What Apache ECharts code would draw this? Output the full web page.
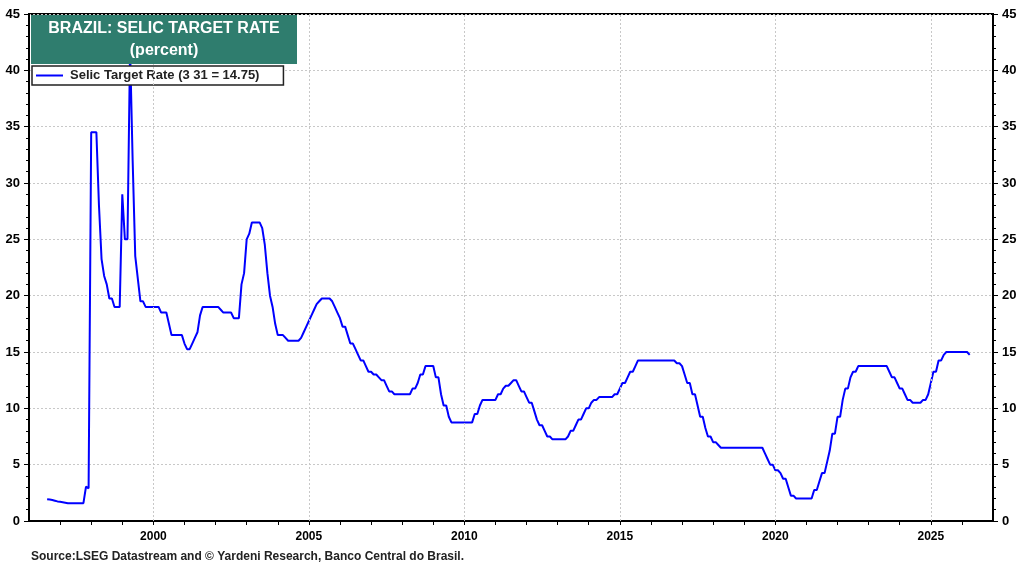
<!DOCTYPE html>
<html><head><meta charset="utf-8">
<script src="https://cdn.jsdelivr.net/npm/echarts@6/dist/echarts.min.js"></script>
<style>html,body{margin:0;padding:0;background:#fff}#c{width:1024px;height:564px}</style>
</head><body><div id="c"></div>
<script>
// Monthly observations, first one is Aug 1996 (each point is the rate at the start of its month)
const startYear = 1996, startMonth = 8;
const selicRate = [
  1.93, 1.90, 1.86, 1.80, 1.74,                                         // 1996 Aug-Dec
  1.70, 1.66, 1.62, 1.58, 1.58, 1.58, 1.58, 1.58, 1.58, 1.58, 3.05, 2.90, // 1997
  34.5, 34.5, 34.5, 28, 23.25, 21.75, 21, 19.75, 19.75, 19, 19, 19,         // 1998
  29, 25, 25, 42, 32, 23.5, 21.5, 19.5, 19.5, 19, 19, 19,                   // 1999
  19, 19, 19, 18.5, 18.5, 18.5, 17.5, 16.5, 16.5, 16.5, 16.5, 16.5,         // 2000
  15.75, 15.25, 15.25, 15.75, 16.25, 16.75, 18.25, 19, 19, 19, 19, 19,      // 2001
  19, 19, 18.75, 18.5, 18.5, 18.5, 18.5, 18, 18, 18, 21, 22,                // 2002
  25, 25.5, 26.5, 26.5, 26.5, 26.5, 26, 24.5, 22, 20, 19, 17.5,             // 2003
  16.5, 16.5, 16.5, 16.25, 16, 16, 16, 16, 16, 16.25, 16.75, 17.25,         // 2004
  17.75, 18.25, 18.75, 19.25, 19.5, 19.75, 19.75, 19.75, 19.75, 19.5, 19, 18.5, // 2005
  18, 17.25, 17.25, 16.5, 15.75, 15.75, 15.25, 14.75, 14.25, 14.25, 13.75, 13.25, // 2006
  13.25, 13, 13, 12.75, 12.5, 12.5, 12, 11.5, 11.5, 11.25, 11.25, 11.25,    // 2007
  11.25, 11.25, 11.25, 11.25, 11.75, 11.75, 12.25, 13, 13, 13.75, 13.75, 13.75, // 2008
  13.75, 12.75, 12.75, 11.25, 10.25, 10.25, 9.25, 8.75, 8.75, 8.75, 8.75, 8.75, // 2009
  8.75, 8.75, 8.75, 8.75, 9.5, 9.5, 10.25, 10.75, 10.75, 10.75, 10.75, 10.75, // 2010
  10.75, 11.25, 11.25, 11.75, 12, 12, 12.25, 12.5, 12.5, 12, 11.5, 11.5,    // 2011
  11, 10.5, 10.5, 9.75, 9, 8.5, 8.5, 8, 7.5, 7.5, 7.25, 7.25,               // 2012
  7.25, 7.25, 7.25, 7.25, 7.5, 8, 8, 8.5, 9, 9, 9.5, 10,                    // 2013
  10, 10.5, 10.75, 10.75, 11, 11, 11, 11, 11, 11, 11.25, 11.25,             // 2014
  11.75, 12.25, 12.25, 12.75, 13.25, 13.25, 13.75, 14.25, 14.25, 14.25, 14.25, 14.25, // 2015
  14.25, 14.25, 14.25, 14.25, 14.25, 14.25, 14.25, 14.25, 14.25, 14.25, 14, 14, // 2016
  13.75, 13, 12.25, 12.25, 11.25, 11.25, 10.25, 9.25, 9.25, 8.25, 7.5, 7.5, // 2017
  7, 7, 6.75, 6.5, 6.5, 6.5, 6.5, 6.5, 6.5, 6.5, 6.5, 6.5,                  // 2018
  6.5, 6.5, 6.5, 6.5, 6.5, 6.5, 6.5, 6.5, 6, 5.5, 5, 5,                     // 2019
  4.5, 4.5, 4.25, 3.75, 3.75, 3, 2.25, 2.25, 2, 2, 2, 2,                    // 2020
  2, 2, 2, 2.75, 2.75, 3.5, 4.25, 4.25, 5.25, 6.25, 7.75, 7.75,             // 2021
  9.25, 9.25, 10.75, 11.75, 11.75, 12.75, 13.25, 13.25, 13.75, 13.75, 13.75, 13.75, // 2022
  13.75, 13.75, 13.75, 13.75, 13.75, 13.75, 13.75, 13.75, 13.25, 12.75, 12.75, 12.25, // 2023
  11.75, 11.75, 11.25, 10.75, 10.75, 10.5, 10.5, 10.5, 10.5, 10.75, 10.75, 11.25, // 2024
  12.25, 13.25, 13.25, 14.25, 14.25, 14.75, 15, 15, 15, 15, 15, 15,         // 2025
  15, 15, 15, 14.75                                                         // 2026 Jan-Apr
];
const xLabelYears = [2000, 2005, 2010, 2015, 2020, 2025];
const seriesName = 'Selic Target Rate (3 31 = 14.75)';
const titleLines = ['BRAZIL: SELIC TARGET RATE', '(percent)'];
const sourceText = 'Source:LSEG Datastream and \u00A9 Yardeni Research, Banco Central do Brasil.';

const FONT = '"Liberation Sans", Arial, sans-serif';
const seriesData = selicRate.map((v, i) => [startYear + (startMonth - 1 + i) / 12, v]);
const gridStyle = {color: '#c8c8c8', type: [2, 2], width: 1};

const chart = echarts.init(document.getElementById('c'), null, {renderer: 'canvas'});
const yAxisCommon = {
  type: 'value', min: 0, max: 45, interval: 5,
  axisLine: {show: true, lineStyle: {color: '#000', width: 2}},
  axisTick: {show: true, length: 5, lineStyle: {color: '#000', width: 1}},
  minorTick: {show: true, splitNumber: 5, length: 3, lineStyle: {color: '#000', width: 1}},
  axisLabel: {color: '#000', fontWeight: 'bold', fontSize: 13, fontFamily: FONT, margin: 9}
};
chart.setOption({
  animation: false,
  backgroundColor: '#fff',
  grid: {left: 29, right: 31, top: 14, bottom: 43, show: true, borderColor: '#000', borderWidth: 2, containLabel: false},
  xAxis: {
    type: 'value', min: 1996, max: 2027, interval: 1,
    axisLine: {show: true, onZero: false, lineStyle: {color: '#000', width: 2}},
    axisTick: {show: true, length: 4, lineStyle: {color: '#000', width: 1}},
    axisLabel: {
      color: '#000', fontWeight: 'bold', fontSize: 12, fontFamily: FONT, margin: 10,
      showMinLabel: false, showMaxLabel: false,
      formatter: v => xLabelYears.includes(Math.round(v)) ? String(Math.round(v)) : ''
    },
    splitLine: {show: false}
  },
  yAxis: [
    Object.assign({}, yAxisCommon, {position: 'left', splitLine: {show: true, lineStyle: gridStyle}}),
    Object.assign({}, yAxisCommon, {position: 'right', splitLine: {show: false}})
  ],
  legend: {
    data: [seriesName], left: 32, top: 66,
    icon: 'rect', itemWidth: 27, itemHeight: 2,
    backgroundColor: '#fff', borderColor: '#222', borderWidth: 1.5, borderRadius: 0,
    padding: [3, 24, 3, 4],
    textStyle: {color: '#222', fontWeight: 'bold', fontSize: 13, fontFamily: FONT, padding: [0, 0, 0, 2]}
  },
  graphic: [
    {type: 'rect', x: 31, y: 15, shape: {x: 0, y: 0, width: 266, height: 49}, style: {fill: '#2f7d6e'}, z: 100},
    {type: 'text', x: 164, y: 29, z: 101, style: {text: titleLines[0], fill: '#fff', font: 'bold 16px ' + FONT, align: 'center', verticalAlign: 'middle'}},
    {type: 'text', x: 164, y: 51, z: 101, style: {text: titleLines[1], fill: '#fff', font: 'bold 16px ' + FONT, align: 'center', verticalAlign: 'middle'}},
    {type: 'text', x: 31, y: 557, z: 101, style: {text: sourceText, fill: '#222', font: 'bold 12px ' + FONT, align: 'left', verticalAlign: 'middle'}}
  ],
  series: [
    {
      name: 'gridlines', type: 'line', data: [], z: 1, silent: true,
      markLine: {
        silent: true, symbol: 'none', label: {show: false}, animation: false,
        lineStyle: gridStyle, emphasis: {disabled: true},
        data: xLabelYears.map(y => ({xAxis: y}))
      }
    },
    {
      name: seriesName, type: 'line', data: seriesData, symbol: 'none', showSymbol: false,
      lineStyle: {color: '#0000ff', width: 2}, itemStyle: {color: '#0000ff'}, z: 2
    }
  ]
});
</script></body></html>
